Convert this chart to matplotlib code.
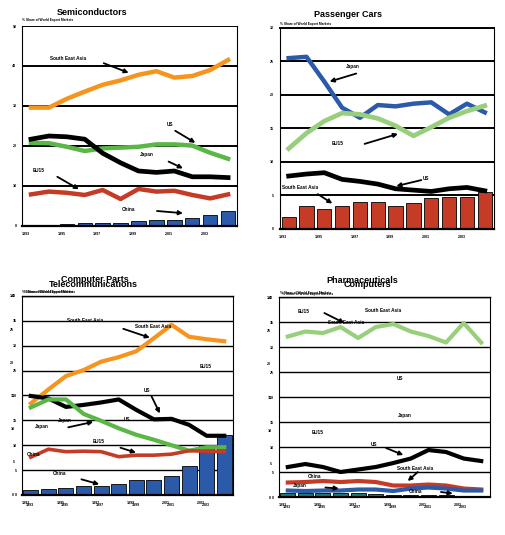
import numpy as np
import matplotlib
matplotlib.use('Agg')
import matplotlib.pyplot as plt

plt.rcParams['font.family'] = ['Liberation Sans', 'DejaVu Sans']
plt.rcParams['font.weight'] = 'bold'

years = list(range(1993, 2005))
year_labels = ['1993', '1995', '1997', '1999', '2001', '2003']
share_text = '% Share of World Export Markets'

# Semiconductors
semi_sea = [29.6, 29.6, 31.8, 33.6, 35.3, 36.4, 37.8, 38.7, 37.1, 37.5, 39.0, 41.5]
semi_japan = [21.7, 22.5, 22.3, 21.7, 18.2, 15.8, 13.75, 13.4, 13.75, 12.3, 12.3, 12.1]
semi_us = [20.8, 20.7, 19.8, 18.75, 19.4, 19.6, 19.8, 20.4, 20.4, 20.1, 18.3, 16.8]
semi_eu15 = [7.9, 8.6, 8.3, 7.75, 9.0, 6.75, 9.25, 8.6, 8.8, 7.75, 6.9, 7.9]
semi_china = [0.25, 0.25, 0.4, 0.7, 0.7, 0.7, 1.3, 1.5, 1.5, 1.9, 2.75, 3.75]

# Passenger Cars
cars_japan = [25.5, 25.7, 22.0, 18.1, 16.6, 18.5, 18.3, 18.7, 18.9, 17.1, 18.7, 17.4]
cars_eu15 = [12.0, 14.3, 16.1, 17.3, 17.1, 16.5, 15.4, 13.9, 15.2, 16.6, 17.6, 18.4]
cars_us = [7.9, 8.2, 8.4, 7.4, 7.1, 6.7, 6.0, 5.8, 5.6, 6.0, 6.2, 5.7]
cars_sea = [1.8, 3.4, 3.0, 3.5, 4.1, 4.1, 3.5, 3.9, 4.6, 4.8, 4.8, 5.5]

# Computer Parts / Telecommunications
parts_sea = [18.4, 21.2, 23.9, 25.1, 26.8, 27.7, 28.9, 31.5, 34.2, 31.8, 31.3, 30.9]
parts_us = [19.9, 19.4, 17.7, 18.1, 18.6, 19.2, 17.1, 15.2, 15.3, 14.1, 11.9, 11.9]
parts_japan = [17.6, 19.2, 19.2, 16.3, 14.9, 13.4, 12.1, 11.1, 10.0, 8.9, 9.6, 9.6]
parts_eu15 = [7.6, 9.2, 8.7, 8.8, 8.7, 7.7, 8.0, 8.0, 8.2, 8.9, 8.8, 8.7]
parts_china = [1.0, 1.3, 1.5, 1.8, 1.8, 2.2, 3.0, 3.0, 3.8, 5.8, 10.0, 12.1]

# Pharmaceuticals / Computers
pharma_eu15 = [32.1, 33.1, 32.8, 34.0, 31.8, 34.0, 34.6, 33.1, 32.2, 30.9, 34.8, 30.9]
pharma_us = [6.0, 6.6, 6.0, 5.0, 5.5, 6.0, 6.8, 7.7, 9.4, 9.0, 7.7, 7.2]
pharma_sea = [2.9, 3.0, 3.2, 3.0, 3.2, 3.0, 2.3, 2.3, 2.5, 2.3, 1.7, 1.5]
pharma_japan = [1.3, 1.2, 1.3, 1.3, 1.5, 1.5, 1.2, 1.7, 1.9, 1.7, 1.3, 1.3]
pharma_china = [0.9, 0.9, 0.85, 0.85, 0.8, 0.55, 0.5, 0.5, 0.45, 0.4, 0.3, 0.3]

ORANGE = '#f7941d'
GREEN = '#5ab646'
LGREEN = '#98cf7c'
RED = '#c63b26'
BLUE = '#2b5aa8'
TEAL = '#1b7b76'

x = np.arange(len(years))
label_pos = np.arange(0, 12, 2) - 0.3

fig = plt.figure(figsize=(5.06, 5.35), dpi=100)


def setup(rect, ymax, step, grid_lw, top=True):
    ax = fig.add_axes(rect)
    ax.set_xlim(-0.5, 11.5)
    ax.set_ylim(0, ymax)
    ax.set_yticks(np.arange(0, ymax + 0.1, step))
    ax.set_yticklabels([str(int(v)) for v in np.arange(0, ymax + 0.1, step)])
    ax.set_xticks(label_pos)
    ax.set_xticklabels(year_labels)
    ax.tick_params(length=0, labelsize=2.6, pad=4)
    ax.set_axisbelow(True)
    ax.grid(axis='y', color='black', lw=grid_lw)
    for s in ['left', 'right']:
        ax.spines[s].set_linewidth(0.8)
    ax.spines['bottom'].set_linewidth(1.6)
    ax.spines['top'].set_visible(top)
    ax.spines['top'].set_linewidth(grid_lw)
    return ax


def arrow(ax, start, end):
    ax.annotate('', xy=end, xytext=start,
                arrowprops=dict(arrowstyle='-|>', color='black', lw=1.3,
                                mutation_scale=6, shrinkA=0, shrinkB=0))


def lab(ax, xy, text):
    ax.text(xy[0], xy[1], text, fontsize=3.4, ha='center', va='center')


def overlay(rect):
    ax2 = fig.add_axes(rect, facecolor='none')
    ax2.set_xlim(-0.5, 11.5)
    ax2.set_ylim(0, 30)
    ax2.set_yticks(np.arange(0, 31, 5))
    ax2.set_yticklabels([str(v) for v in range(0, 31, 5)])
    ax2.set_xticks(label_pos + 0.25)
    ax2.set_xticklabels(year_labels)
    ax2.tick_params(length=0, labelsize=2.6, pad=5.5)
    for s in ax2.spines.values():
        s.set_visible(False)
    return ax2


# ---- Semiconductors
ax1 = setup([0.0435, 0.5776, 0.425, 0.3738], 50, 10, 1.4, top=False)
ax1.bar(x, semi_china, width=0.8, color=BLUE, edgecolor='black', lw=0.6)
ax1.plot(x, semi_sea, color=ORANGE, lw=3.2)
ax1.plot(x, semi_us, color=GREEN, lw=3.2)
ax1.plot(x, semi_japan, color='black', lw=3.4)
ax1.plot(x, semi_eu15, color=RED, lw=3.2)
lab(ax1, (2.08, 41.9), 'South East Asia')
arrow(ax1, (4.06, 40.7), (5.45, 38.3))
lab(ax1, (7.77, 25.25), 'US')
arrow(ax1, (8.05, 23.8), (9.17, 20.8))
lab(ax1, (6.44, 17.75), 'Japan')
arrow(ax1, (7.68, 16.1), (8.48, 14.4))
lab(ax1, (0.45, 13.75), 'EU15')
arrow(ax1, (1.47, 12.3), (2.67, 9.2))
lab(ax1, (5.45, 4.2), 'China')
arrow(ax1, (7.03, 3.75), (8.48, 3.2))
fig.text(0.182, 0.977, 'Semiconductors', fontsize=6.5, ha='center', va='center')
fig.text(0.0435, 0.963, share_text, fontsize=2.3, va='center')

# ---- Passenger Cars
ax2 = setup([0.5528, 0.5720, 0.4229, 0.3757], 30, 5, 1.4)
ax2.bar(x, cars_sea, width=0.8, color=RED, edgecolor='black', lw=0.6)
ax2.plot(x, cars_japan, color=BLUE, lw=3.2)
ax2.plot(x, cars_eu15, color=LGREEN, lw=3.4)
ax2.plot(x, cars_us, color='black', lw=3.4)
lab(ax2, (3.6, 24.3), 'Japan')
arrow(ax2, (3.79, 23.2), (2.3, 22.0))
lab(ax2, (2.77, 12.7), 'EU15')
arrow(ax2, (4.26, 12.7), (6.13, 14.2))
lab(ax2, (7.72, 7.5), 'US')
arrow(ax2, (7.44, 7.3), (6.04, 6.4))
lab(ax2, (0.62, 6.2), 'South East Asia')
arrow(ax2, (1.64, 5.2), (2.45, 3.8))
fig.text(0.688, 0.972, 'Passenger Cars', fontsize=6.5, ha='center', va='center')
fig.text(0.553, 0.955, share_text, fontsize=2.3, va='center')

# ---- Computer Parts / Telecommunications
rect3 = [0.0435, 0.0748, 0.417, 0.372]
ax3 = setup(rect3, 40, 5, 1.0)
ax3b = overlay(rect3)
ax3.bar(x, parts_china, width=0.85, color=BLUE, edgecolor='black', lw=0.6)
ax3.plot(x, parts_sea, color=ORANGE, lw=3.0)
ax3.plot(x, parts_us, color='black', lw=3.0)
ax3.plot(x, parts_japan, color=GREEN, lw=3.0)
ax3.plot(x, parts_eu15, color=RED, lw=2.6)
lab(ax3, (3.07, 35.0), 'South East Asia')
lab(ax3, (6.96, 33.8), 'South East Asia')
arrow(ax3, (5.26, 33.4), (6.77, 31.6))
lab(ax3, (9.94, 25.8), 'EU15')
lab(ax3, (6.62, 21.0), 'US')
arrow(ax3, (6.87, 19.8), (7.34, 16.4))
lab(ax3, (5.48, 15.2), 'US')
lab(ax3, (1.94, 14.9), 'Japan')
arrow(ax3, (2.13, 13.6), (3.55, 14.7))
lab(ax3, (0.61, 13.7), 'Japan')
lab(ax3, (3.87, 10.7), 'EU15')
arrow(ax3, (5.1, 9.5), (5.98, 8.5))
lab(ax3, (0.13, 8.2), 'China')
lab(ax3, (1.65, 4.35), 'China')
arrow(ax3, (2.88, 3.15), (3.89, 2.14))
fig.text(0.188, 0.477, 'Computer Parts', fontsize=6.5, ha='center', va='center')
fig.text(0.184, 0.469, 'Telecommunications', fontsize=6.5, ha='center', va='center')
fig.text(0.0435, 0.455, share_text, fontsize=2.3, va='center')
fig.text(0.047, 0.454, share_text, fontsize=2.3, va='center')

# ---- Pharmaceuticals / Computers
rect4 = [0.5514, 0.0710, 0.417, 0.3738]
ax4 = setup(rect4, 40, 5, 1.0)
ax4b = overlay(rect4)
ax4.bar(x, pharma_china, width=0.85, color=TEAL, edgecolor='black', lw=0.6)
ax4.plot(x, pharma_eu15, color=LGREEN, lw=3.0)
ax4.plot(x, pharma_us, color='black', lw=3.0)
ax4.plot(x, pharma_sea, color=RED, lw=3.0)
ax4.plot(x, pharma_japan, color=BLUE, lw=3.0)
lab(ax4, (0.91, 37.1), 'EU15')
arrow(ax4, (2.08, 36.8), (3.22, 34.8))
lab(ax4, (5.4, 37.3), 'South East Asia')
lab(ax4, (3.31, 34.9), 'South East Asia')
lab(ax4, (6.4, 23.7), 'US')
lab(ax4, (6.63, 16.4), 'Japan')
lab(ax4, (1.67, 13.0), 'EU15')
lab(ax4, (4.92, 10.6), 'US')
arrow(ax4, (5.59, 9.8), (6.57, 8.4))
lab(ax4, (7.23, 5.8), 'South East Asia')
arrow(ax4, (7.39, 5.0), (6.82, 3.2))
lab(ax4, (1.52, 4.2), 'China')
lab(ax4, (0.7, 2.3), 'Japan')
arrow(ax4, (2.14, 1.9), (2.9, 1.7))
lab(ax4, (7.25, 1.1), 'China')
arrow(ax4, (8.71, 1.0), (9.38, 0.7))
fig.text(0.716, 0.475, 'Pharmaceuticals', fontsize=6.5, ha='center', va='center')
fig.text(0.727, 0.468, 'Computers', fontsize=6.5, ha='center', va='center')
fig.text(0.553, 0.452, share_text, fontsize=2.3, va='center')
fig.text(0.557, 0.451, share_text, fontsize=2.3, va='center')

fig.savefig('out.png', dpi=100)
